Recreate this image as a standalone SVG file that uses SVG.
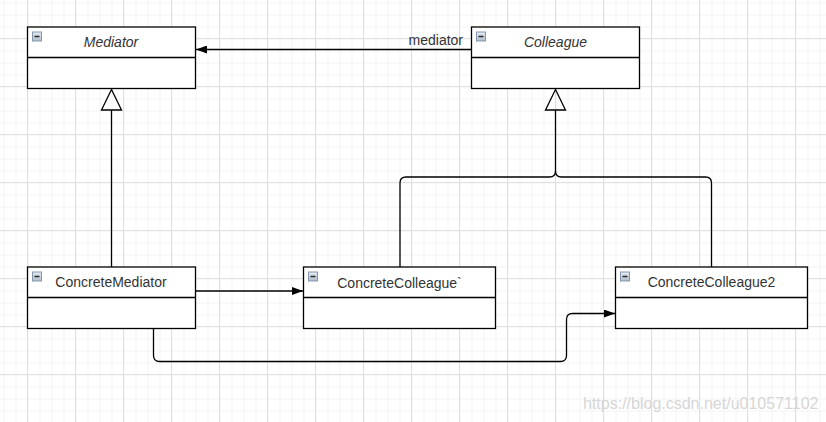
<svg xmlns="http://www.w3.org/2000/svg" width="826" height="422" viewBox="0 0 826 422">
  <defs>
    <pattern id="minor" x="3.5" y="2.5" width="12" height="12" patternUnits="userSpaceOnUse">
      <path d="M0 0.5 H12 M0.5 0 V12" stroke="#f3f3f3" stroke-width="1" fill="none"/>
    </pattern>
    <pattern id="major" x="27" y="38" width="48" height="48" patternUnits="userSpaceOnUse">
      <path d="M0 0.5 H48 M0.5 0 V48" stroke="#e0e0e0" stroke-width="1" fill="none"/>
    </pattern>
    <linearGradient id="iconGrad" x1="0" y1="0" x2="0" y2="1">
      <stop offset="0" stop-color="#e6ecf3"/>
      <stop offset="1" stop-color="#aebccd"/>
    </linearGradient>
    <marker id="arrow" viewBox="0 0 11 8" refX="11" refY="4" markerWidth="11" markerHeight="8" markerUnits="userSpaceOnUse" orient="auto">
      <path d="M0 0 L11 4 L0 8 Z" fill="#000"/>
    </marker>
    <g id="icon">
      <rect x="0.5" y="0.5" width="9" height="9" fill="url(#iconGrad)" stroke="#8797ab" stroke-width="1"/>
      <path d="M2.5 5 H7.5" stroke="#2a2a2a" stroke-width="1.5"/>
    </g>
  </defs>
  <style>
    .box { fill: #fff; stroke: #000; stroke-width: 1.3; }
    .div { stroke: #000; stroke-width: 1.3; fill: none; }
    .edge { stroke: #000; stroke-width: 1.3; fill: none; }
    .lbl { font-family: "Liberation Sans", Arial, sans-serif; font-size: 14px; fill: #333; text-anchor: middle; }
    .it { font-style: italic; }
  </style>
  <rect width="826" height="422" fill="#fff"/>
  <rect width="826" height="422" fill="url(#minor)"/>
  <rect width="826" height="422" fill="url(#major)"/>

  <g id="connectors">
    <path class="edge" d="M471.5 49.5 H196" marker-end="url(#arrow)"/>
    <text class="lbl" x="463" y="45" style="text-anchor:end">mediator</text>
    <path class="edge" d="M111.5 267 V110"/>
    <path class="edge" d="M111.5 89.5 L101.5 110 H121.5 Z" fill="#fff"/>
    <path class="edge" d="M400 267 V183 Q400 177 406 177 H549.5 Q555.5 177 555.5 171 V110"/>
    <path class="edge" d="M711.5 267 V183 Q711.5 177 705.5 177 H561.5 Q555.5 177 555.5 171"/>
    <path class="edge" d="M555.5 89.5 L545.5 110 H565.5 Z" fill="#fff"/>
    <path class="edge" d="M195.5 291 H303" marker-end="url(#arrow)"/>
    <path class="edge" d="M153.5 328.5 V355.5 Q153.5 361.5 159.5 361.5 H560.5 Q566.5 361.5 566.5 355.5 V319.5 Q566.5 313.5 572.5 313.5 H615" marker-end="url(#arrow)"/>
  </g>

  <g id="Mediator">
    <rect class="box" x="27.5" y="27" width="168" height="61.5"/>
    <path class="div" d="M27.5 57.5 H195.5"/>
    <use href="#icon" x="32" y="31.5"/>
    <text class="lbl it" x="111" y="47">Mediator</text>
  </g>
  <g id="Colleague">
    <rect class="box" x="471.5" y="27" width="168" height="61.5"/>
    <path class="div" d="M471.5 57.5 H639.5"/>
    <use href="#icon" x="476" y="31.5"/>
    <text class="lbl it" x="555.5" y="47">Colleague</text>
  </g>
  <g id="ConcreteMediator">
    <rect class="box" x="27.5" y="267" width="168" height="61.5"/>
    <path class="div" d="M27.5 297.5 H195.5"/>
    <use href="#icon" x="32" y="271.5"/>
    <text class="lbl" x="111" y="287">ConcreteMediator</text>
  </g>
  <g id="ConcreteColleague1">
    <rect class="box" x="303.5" y="267" width="192" height="61.5"/>
    <path class="div" d="M303.5 297.5 H495.5"/>
    <use href="#icon" x="308" y="271.5"/>
    <text class="lbl" x="399.5" y="288">ConcreteColleague`</text>
  </g>
  <g id="ConcreteColleague2">
    <rect class="box" x="615.5" y="267" width="192" height="61.5"/>
    <path class="div" d="M615.5 297.5 H807.5"/>
    <use href="#icon" x="620" y="271.5"/>
    <text class="lbl" x="711.5" y="287">ConcreteColleague2</text>
  </g>

  <text x="583" y="409" style="font-family:'Liberation Sans',Arial,sans-serif;font-size:16px;fill:#d6d6d6">https://blog.csdn.net/u010571102</text>
</svg>
